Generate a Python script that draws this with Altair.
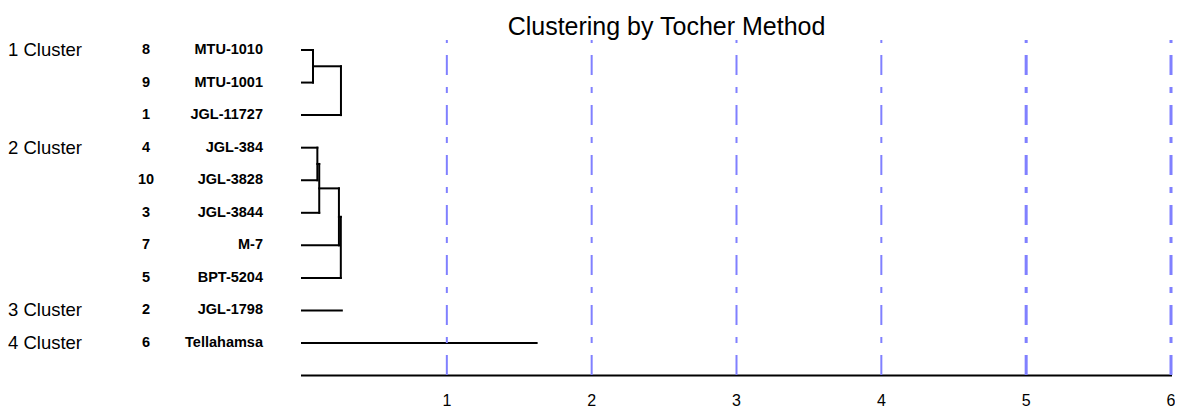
import altair as alt
import pandas as pd

# ---------------- data ----------------
title_text = "Clustering by Tocher Method"
genotype_no = [8, 9, 1, 4, 10, 3, 7, 5, 2, 6]
genotype = ["MTU-1010", "MTU-1001", "JGL-11727", "JGL-384", "JGL-3828",
            "JGL-3844", "M-7", "BPT-5204", "JGL-1798", "Tellahamsa"]
leaf_cluster = [1, 1, 1, 2, 2, 2, 2, 2, 3, 4]
cluster_labels = ["1 Cluster", "2 Cluster", "3 Cluster", "4 Cluster"]

# merge steps inside each cluster: (member A, member B, fusion distance); "prev" = previous fusion
cluster1_merges = [(8, 9, 0.076), ("prev", 1, 0.269)]
cluster2_merges = [(4, 10, 0.106), ("prev", 3, 0.119), ("prev", 7, 0.255), ("prev", 5, 0.268)]
single_leaf_length = {2: 0.275, 6: 1.62}
axis_ticks = [1, 2, 3, 4, 5, 6]
axis_max = 6

# ---------------- build tables ----------------
row_of = {g: i for i, g in enumerate(genotype_no)}
segs = []
for merges in (cluster1_merges, cluster2_merges):
    prev = None
    for a, b, h in merges:
        na = prev if a == "prev" else (row_of[a], 0.0)
        nb = (row_of[b], 0.0)
        segs.append(dict(x=na[1], x2=h, y=na[0], y2=na[0]))
        segs.append(dict(x=nb[1], x2=h, y=nb[0], y2=nb[0]))
        segs.append(dict(x=h, x2=h, y=na[0], y2=nb[0]))
        prev = ((na[0] + nb[0]) / 2, h)
for g, L in single_leaf_length.items():
    segs.append(dict(x=0.0, x2=L, y=row_of[g], y2=row_of[g]))
# x axis baseline
segs.append(dict(x=0.0, x2=float(axis_max), y=len(genotype_no), y2=len(genotype_no)))
seg_df = pd.DataFrame(segs)

leaf_df = pd.DataFrame({"row": list(range(len(genotype_no))),
                        "no": [str(n) for n in genotype_no],
                        "name": genotype})
first_rows = [leaf_cluster.index(c) for c in range(1, len(cluster_labels) + 1)]
clus_df = pd.DataFrame({"row": first_rows, "label": cluster_labels})
tick_df = pd.DataFrame({"v": axis_ticks})

# ---------------- scales ----------------
W, H = 1167, 403
xs = alt.Scale(domain=[0, axis_max], range=[294, 1163])
ys = alt.Scale(domain=[0, len(genotype_no)], range=[42, 367.6])
FONT = "Liberation Sans"

lines = alt.Chart(seg_df).mark_rule(color="black", strokeWidth=2, strokeCap="square").encode(
    x=alt.X("x:Q", scale=xs, axis=None),
    x2="x2:Q",
    y=alt.Y("y:Q", scale=ys, axis=None),
    y2="y2:Q",
)

grid = alt.Chart(tick_df).mark_rule(
    color="#8080ff", strokeDash=[20, 12, 6, 12], strokeDashOffset=35
).encode(
    x=alt.X("v:Q", scale=xs, axis=None),
    y=alt.value(32),
    y2=alt.value(375),
    strokeWidth=alt.condition(alt.datum.v >= 5, alt.value(3), alt.value(2)),
)

tick_text = alt.Chart(tick_df).mark_text(
    font=FONT, fontSize=16, baseline="middle", align="center", color="black"
).encode(
    x=alt.X("v:Q", scale=xs, axis=None),
    y=alt.value(393),
    text="v:Q",
)

clus_text = alt.Chart(clus_df).mark_text(
    font=FONT, fontSize=18.5, baseline="middle", align="left", color="black"
).encode(
    x=alt.value(0),
    y=alt.Y("row:Q", scale=ys, axis=None),
    text="label:N",
)

no_text = alt.Chart(leaf_df).mark_text(
    font=FONT, fontSize=14.5, fontWeight="bold", baseline="middle", align="center", color="black"
).encode(
    x=alt.value(138),
    y=alt.Y("row:Q", scale=ys, axis=None),
    text="no:N",
)

name_text = alt.Chart(leaf_df).mark_text(
    font=FONT, fontSize=14.5, fontWeight="bold", baseline="middle", align="right", color="black"
).encode(
    x=alt.value(255),
    y=alt.Y("row:Q", scale=ys, axis=None),
    text="name:N",
)

title = alt.Chart(pd.DataFrame({"t": [title_text]})).mark_text(
    font=FONT, fontSize=25, baseline="alphabetic", align="center", color="black"
).encode(
    x=alt.value(658.5),
    y=alt.value(27),
    text="t:N",
)

chart = alt.layer(lines, tick_text, clus_text, no_text, name_text, title, grid).properties(
    width=W, height=H, padding=0,
    autosize=alt.AutoSizeParams(type="none"),
).configure_view(stroke=None)

chart.save("out.html", embed_options={"renderer": "svg", "actions": False})
